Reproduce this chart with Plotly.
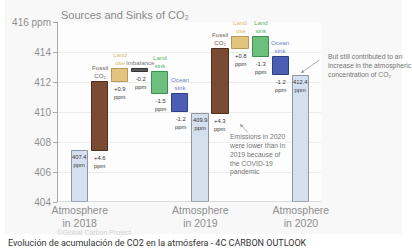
import plotly.graph_objects as go

# ---- data ----
bar_names = ["Atmosphere<br>in 2018", "Fossil<br>CO₂", "Land<br>use", "Imbalance", "Land<br>sink", "Ocean<br>sink",
             "Atmosphere<br>in 2019", "Fossil<br>CO₂", "Land-<br>use", "Land<br>sink", "Ocean<br>sink",
             "Atmosphere<br>in 2020"]
bar_kinds = ["total", "delta", "delta", "delta", "delta", "delta",
             "total", "delta", "delta", "delta", "delta", "total"]
bar_values = [407.4, 4.6, 0.9, -0.2, -1.5, -1.2, 409.9, 4.3, 0.8, -1.3, -1.2, 412.4]
y_ticks = [404, 406, 408, 410, 412, 414, 416]
y_tick_labels = ["404", "406", "408", "410", "412", "414", "416 ppm"]

# ---- styles ----
AXIS_MIN = 404
fills = ["#d5e0ef", "#7b4a33", "#e2c47f", "#5a5a5a", "#6cbf7c", "#4b5eb3",
         "#d5e0ef", "#7b4a33", "#e2c47f", "#6cbf7c", "#4b5eb3", "#d5e0ef"]
borders = ["#8f96a0", "#4e2e1f", "#b89a55", "#333333", "#3f8f50", "#2f3f85",
           "#8f96a0", "#4e2e1f", "#b89a55", "#3f8f50", "#2f3f85", "#8f96a0"]
name_colors = ["#888", "#6b5f58", "#d8ba72", "#777777", "#5cb46e", "#6a84c8",
               "#888", "#6b5f58", "#d8ba72", "#5cb46e", "#6a84c8", "#888"]

xs = list(range(len(bar_values)))
bases, heights = [], []
running = 0.0
for k, v in zip(bar_kinds, bar_values):
    if k == "total":
        bases.append(AXIS_MIN)
        heights.append(v - AXIS_MIN)
        running = v
    else:
        bases.append(running)
        heights.append(v)
        running += v

fig = go.Figure()
fig.add_trace(go.Bar(
    x=xs, y=heights, base=bases, width=0.81,
    marker=dict(color=fills, line=dict(color=borders, width=1)),
    hoverinfo="skip",
))

annotations = []
FONT = "Liberation Sans"
for i, (k, v, b, h) in enumerate(zip(bar_kinds, bar_values, bases, heights)):
    top = max(b, b + h)
    bot = min(b, b + h)
    if k == "total":
        annotations.append(dict(x=i, y=top, xref="x", yref="y", text=f"{v:.1f}<br>ppm",
                                showarrow=False, yanchor="top", yshift=-1,
                                font=dict(size=5.8, color="#333", family=FONT)))
    else:
        annotations.append(dict(x=i, y=top, xref="x", yref="y", text=bar_names[i],
                                showarrow=False, yanchor="bottom", yshift=1,
                                font=dict(size=6.2, color=name_colors[i], family=FONT)))
        annotations.append(dict(x=i, y=bot, xref="x", yref="y", text=f"{v:+.1f}<br>ppm",
                                showarrow=False, yanchor="top", yshift=-2,
                                font=dict(size=5.8, color="#333", family=FONT)))

# chart title
annotations.append(dict(x=0, y=1, xref="paper", yref="paper", text="Sources and Sinks of CO₂",
                        showarrow=False, xanchor="left", yanchor="middle", xshift=1, yshift=7,
                        font=dict(size=11, color="#8a8a8a", family=FONT)))
# COVID note
annotations.append(dict(x=7.3, y=408.75, xref="x", yref="y",
                        text="Emissions in 2020<br>were lower than in<br>2019 because of<br>the COVID-19<br>pandemic",
                        showarrow=False, xanchor="left", yanchor="top", align="left",
                        font=dict(size=6.8, color="#777", family=FONT)))
annotations.append(dict(x=7.97, y=409.2, xref="x", yref="y", text="", showarrow=True,
                        ax=9, ay=10, arrowhead=2, arrowsize=0.8, arrowwidth=0.8, arrowcolor="#999"))
# right note
annotations.append(dict(x=1.02, y=0.84, xref="paper", yref="paper",
                        text="But still contributed to an<br>increase in the atmospheric<br>concentration of CO₂",
                        showarrow=False, xanchor="left", yanchor="top", align="left",
                        font=dict(size=6.8, color="#777", family=FONT)))
annotations.append(dict(x=11, y=412.6, xref="x", yref="y", text="", showarrow=True,
                        ax=20, ay=-14, arrowhead=2, arrowsize=0.8, arrowwidth=0.8, arrowcolor="#999"))
# credit + caption
annotations.append(dict(x=-0.01, y=-0.17, xref="paper", yref="paper", text="©Global Carbon Project",
                        showarrow=False, xanchor="left", yanchor="middle",
                        font=dict(size=7, color="#d0d0d0", family=FONT)))
annotations.append(dict(x=-54 / 267, y=-41 / 180, xref="paper", yref="paper",
                        text="Evolución de acumulación de CO2 en la atmósfera - 4C CARBON OUTLOOK",
                        showarrow=False, xanchor="left", yanchor="middle", xshift=1,
                        font=dict(size=9, color="#333", family="Roboto")))

fig.update_layout(
    width=412, height=249,
    margin=dict(l=54, r=91, t=22, b=47),
    paper_bgcolor="#ffffff",
    plot_bgcolor="#fdfdfd",
    showlegend=False,
    bargap=0,
    annotations=annotations,
    shapes=[dict(type="rect", xref="paper", yref="paper",
                 x0=-54 / 267, x1=(403 - 54) / 267, y0=(202 - 234) / 180, y1=(202 + 5) / 180,
                 fillcolor="#f8f8f8", line=dict(width=0), layer="below"),
            dict(type="rect", xref="paper", yref="paper", x0=0, x1=1, y0=0, y1=1,
                 fillcolor="#fdfdfd", line=dict(width=0), layer="below")],
    xaxis=dict(range=[-1.08, 12.0], tickvals=[0, 6, 11],
               ticktext=[bar_names[0], bar_names[6], bar_names[11]],
               showgrid=False, zeroline=False, showline=False, ticks="",
               tickfont=dict(size=10.5, color="#8f8f8f", family=FONT)),
    yaxis=dict(range=[404, 416], tickvals=y_ticks, ticktext=y_tick_labels,
               showgrid=True, gridcolor="#ececec", gridwidth=1, zeroline=False,
               showline=True, linecolor="#aaaaaa", linewidth=1,
               ticks="outside", ticklen=4, tickcolor="#aaaaaa",
               tickfont=dict(size=10, color="#8f8f8f", family=FONT)),
)
fig.add_shape(type="line", xref="paper", yref="y", x0=0, x1=1, y0=404, y1=404,
              line=dict(color="#bbbbbb", width=1))

fig.write_html("out.html")
